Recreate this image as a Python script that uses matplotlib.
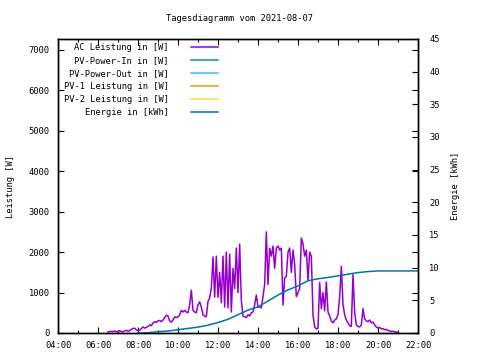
import matplotlib
matplotlib.use("Agg")
import matplotlib.pyplot as plt
import matplotlib.dates as mdates
import pandas as pd

# AC power in W, 5 minute steps starting 06:30 (one row per hour)
ac_watt = [
    30, 35, 40, 35, 50, 30,
    40, 60, 35, 30, 50, 70, 40, 60, 90, 110, 120, 80,
    60, 70, 110, 150, 120, 140, 160, 200, 180, 250, 280, 260,
    300, 310, 280, 320, 380, 440, 420, 300, 270, 320, 400, 380,
    400, 450, 560, 520, 560, 520, 500, 700, 1060, 560, 520, 500,
    700, 770, 640, 450, 420, 400, 780, 870, 1110, 1880, 890, 1900,
    880, 1500, 750, 1900, 640, 2000, 620, 1950, 520, 1600, 1100, 2100,
    1000, 2200, 800, 420, 400, 380, 450, 420, 500, 520, 700, 940,
    650, 640, 620, 900, 1200, 2500, 1200, 2100, 1900, 2150, 1600, 2100,
    2150, 2050, 2100, 690, 1360, 1400, 2000, 2100, 1500, 2050, 1700, 900,
    1000, 1100, 2350, 2200, 1900, 2050, 1300, 2000, 1900, 450, 150, 100,
    120, 1250, 600, 1000, 550, 1260, 520, 420, 300, 250, 320, 350,
    450, 900, 1650, 700, 450, 320, 250, 180, 160, 1450, 500, 200,
    160, 150, 200, 600, 350, 300, 280, 320, 250, 270, 200, 150,
    120, 140, 100, 110, 80, 90, 60, 50, 40, 45, 30, 25,
    20,
]
# energy in kWh, 30 minute steps starting 08:00
energy_kwh = [0.0, 0.05, 0.2, 0.3, 0.5, 0.7, 0.9, 1.2, 1.6, 2.1, 2.8, 3.5,
              4.0, 4.9, 5.8, 6.6, 7.2, 8.0, 8.3, 8.5, 8.75, 9.0, 9.25, 9.4,
              9.5, 9.5, 9.5, 9.5, 9.5]
# series without data that day
pv_in = []
pv_out = []
pv1 = []
pv2 = []

day = "2021-08-07"
ac_time = pd.date_range(day + " 06:30", periods=len(ac_watt), freq="5min")
en_time = pd.date_range(day + " 08:00", periods=len(energy_kwh), freq="30min")

plt.rcParams['font.family'] = 'DejaVu Sans Mono'
plt.rcParams['font.size'] = 6.3

fig = plt.figure(figsize=(4.8, 3.6), dpi=100)
ax = fig.add_axes([58 / 480, 27 / 360, 360 / 480, 294 / 360])
ax2 = ax.twinx()

l1, = ax.plot(ac_time, ac_watt, color='#9400D3', lw=1.1)
l2, = ax.plot(pv_in, pv_in, color='#009E73', lw=1.1)
l3, = ax.plot(pv_out, pv_out, color='#56B4E9', lw=1.1)
l4, = ax.plot(pv1, pv1, color='#E69F00', lw=1.1)
l5, = ax.plot(pv2, pv2, color='#F0E442', lw=1.1)
l6, = ax2.plot(en_time, energy_kwh, color='#0072B2', lw=1.1)

ax.set_xlim(pd.Timestamp(day + " 04:00"), pd.Timestamp(day + " 22:00"))
ax.set_ylim(0, 7270)
ax2.set_ylim(0, 45)
ax.set_yticks(range(0, 8000, 1000))
ax2.set_yticks(range(0, 50, 5))
ax.xaxis.set_major_locator(mdates.HourLocator(byhour=range(0, 24, 2)))
ax.xaxis.set_minor_locator(mdates.HourLocator(byhour=range(1, 24, 2)))
ax.xaxis.set_major_formatter(mdates.DateFormatter('%H:%M'))

ax.tick_params(which='both', direction='in', top=True, right=True, pad=6)
ax.tick_params(which='major', length=4, width=0.8)
ax.tick_params(which='minor', length=2, width=0.8)
ax2.tick_params(direction='in', length=4, width=0.8, pad=8)
for a in (ax, ax2):
    for s in a.spines.values():
        s.set_linewidth(1.0)

ax.set_ylabel('Leistung [W]', labelpad=10)
ax2.set_ylabel('Energie [kWh]', labelpad=8)
fig.text(0.5, 0.948, 'Tagesdiagramm vom 2021-08-07', ha='center', va='center')

ax.legend([l1, l2, l3, l4, l5, l6],
          ['AC Leistung in [W]', 'PV-Power-In in [W]', 'PV-Power-Out in [W]',
           'PV-1 Leistung in [W]', 'PV-2 Leistung in [W]', 'Energie in [kWh]'],
          loc='upper right', bbox_to_anchor=((218 - 58) / 360, 0.985),
          markerfirst=False, frameon=False, handlelength=3.1,
          handletextpad=2.5, labelspacing=0.45, borderpad=0, borderaxespad=0)

fig.savefig('out.png', dpi=100)
